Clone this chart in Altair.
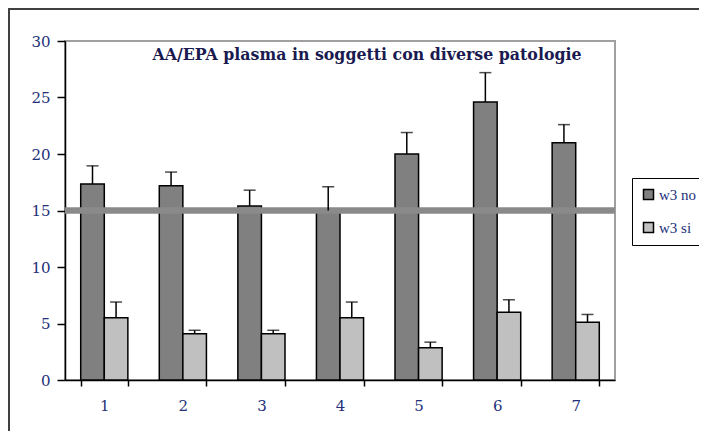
import altair as alt
import pandas as pd

categories = ["1", "2", "3", "4", "5", "6", "7"]
series = ["w3 no", "w3 si"]
w3_no = [17.35, 17.2, 15.4, 15.0, 20.0, 24.6, 21.0]
w3_no_top = [18.95, 18.4, 16.8, 17.1, 21.9, 27.2, 22.6]
w3_si = [5.5, 4.1, 4.1, 5.5, 2.85, 6.0, 5.1]
w3_si_top = [6.9, 4.4, 4.4, 6.9, 3.35, 7.1, 5.8]
y_ticks = [0, 5, 10, 15, 20, 25, 30]
threshold = [15]
title_text = "AA/EPA plasma in soggetti con diverse patologie"

rows = []
for i, c in enumerate(categories):
    rows.append(dict(cat=c, serie=series[0], val=w3_no[i], err=w3_no_top[i]))
    rows.append(dict(cat=c, serie=series[1], val=w3_si[i], err=w3_si_top[i]))
df = pd.DataFrame(rows)

FONT = "DejaVu Serif"
NAVY = "#22307a"

x = alt.X(
    "cat:N",
    sort=categories,
    title=None,
    scale=alt.Scale(paddingInner=0.4, paddingOuter=0.2),
    axis=alt.Axis(
        labelAngle=0, labelFont=FONT, labelFontSize=15, labelColor=NAVY,
        tickBand="extent", tickSize=6, tickColor="black", tickWidth=1.5,
        domainColor="black", domainWidth=1.5, labelPadding=12, grid=False,
    ),
)
xo = alt.XOffset("serie:N", sort=series)
y = alt.Y(
    "val:Q",
    title=None,
    scale=alt.Scale(domain=[0, 30], nice=False),
    axis=alt.Axis(
        values=y_ticks, labelFont=FONT, labelFontSize=15, labelColor=NAVY,
        tickSize=8, tickColor="black", tickWidth=1.5, domainColor="black",
        domainWidth=1.5, labelPadding=7, grid=False,
    ),
)

base = alt.Chart(df)

bars = base.mark_bar(stroke="black", strokeWidth=1.5).encode(
    x=x,
    xOffset=xo,
    y=y,
    color=alt.Color(
        "serie:N",
        scale=alt.Scale(domain=series, range=["#808080", "#c0c0c0"]),
        legend=alt.Legend(
            orient="none", legendX=567, legendY=137, title=None,
            strokeColor="black", padding=9, symbolType="square",
            symbolSize=100, symbolStrokeColor="black", symbolStrokeWidth=1.5,
            labelFont="Liberation Serif", labelFontSize=15, labelColor=NAVY,
            rowPadding=16, labelOffset=3, symbolOpacity=1,
        ),
    ),
)

stems = base.mark_rule(color="black", strokeWidth=1.5).encode(
    x=x, xOffset=xo, y=alt.Y("val:Q", title=None), y2="err:Q"
)
caps = base.mark_tick(color="black", thickness=1.5, size=12).encode(
    x=x, xOffset=xo, y=alt.Y("err:Q", title=None)
)

ref = alt.Chart(pd.DataFrame({"ref": threshold})).mark_rule(
    color="#8a8a8a", strokeWidth=6.5
).encode(y=alt.Y("ref:Q", title=None))

title = alt.Chart(pd.DataFrame({"t": [title_text]})).mark_text(
    font=FONT, fontSize=15.8, fontWeight="bold", color="#1a1a50",
    align="center", baseline="alphabetic",
).encode(x=alt.value(302), y=alt.value(19), text="t:N")

frame = alt.Chart(pd.DataFrame({"f": [0]})).mark_rect(
    fillOpacity=0, stroke="#404040", strokeWidth=2
).encode(
    x=alt.value(-56), x2=alt.value(700), y=alt.value(-32), y2=alt.value(500)
)

chart = alt.layer(frame, bars, ref, stems, caps, title).properties(
    width=550,
    height=339,
    autosize="none",
    padding={"left": 57, "top": 33, "right": 84, "bottom": 51},
).configure_view(stroke="#a0a0a0", strokeWidth=2)

chart.save("out.html", embed_options={"renderer": "svg", "actions": False})
